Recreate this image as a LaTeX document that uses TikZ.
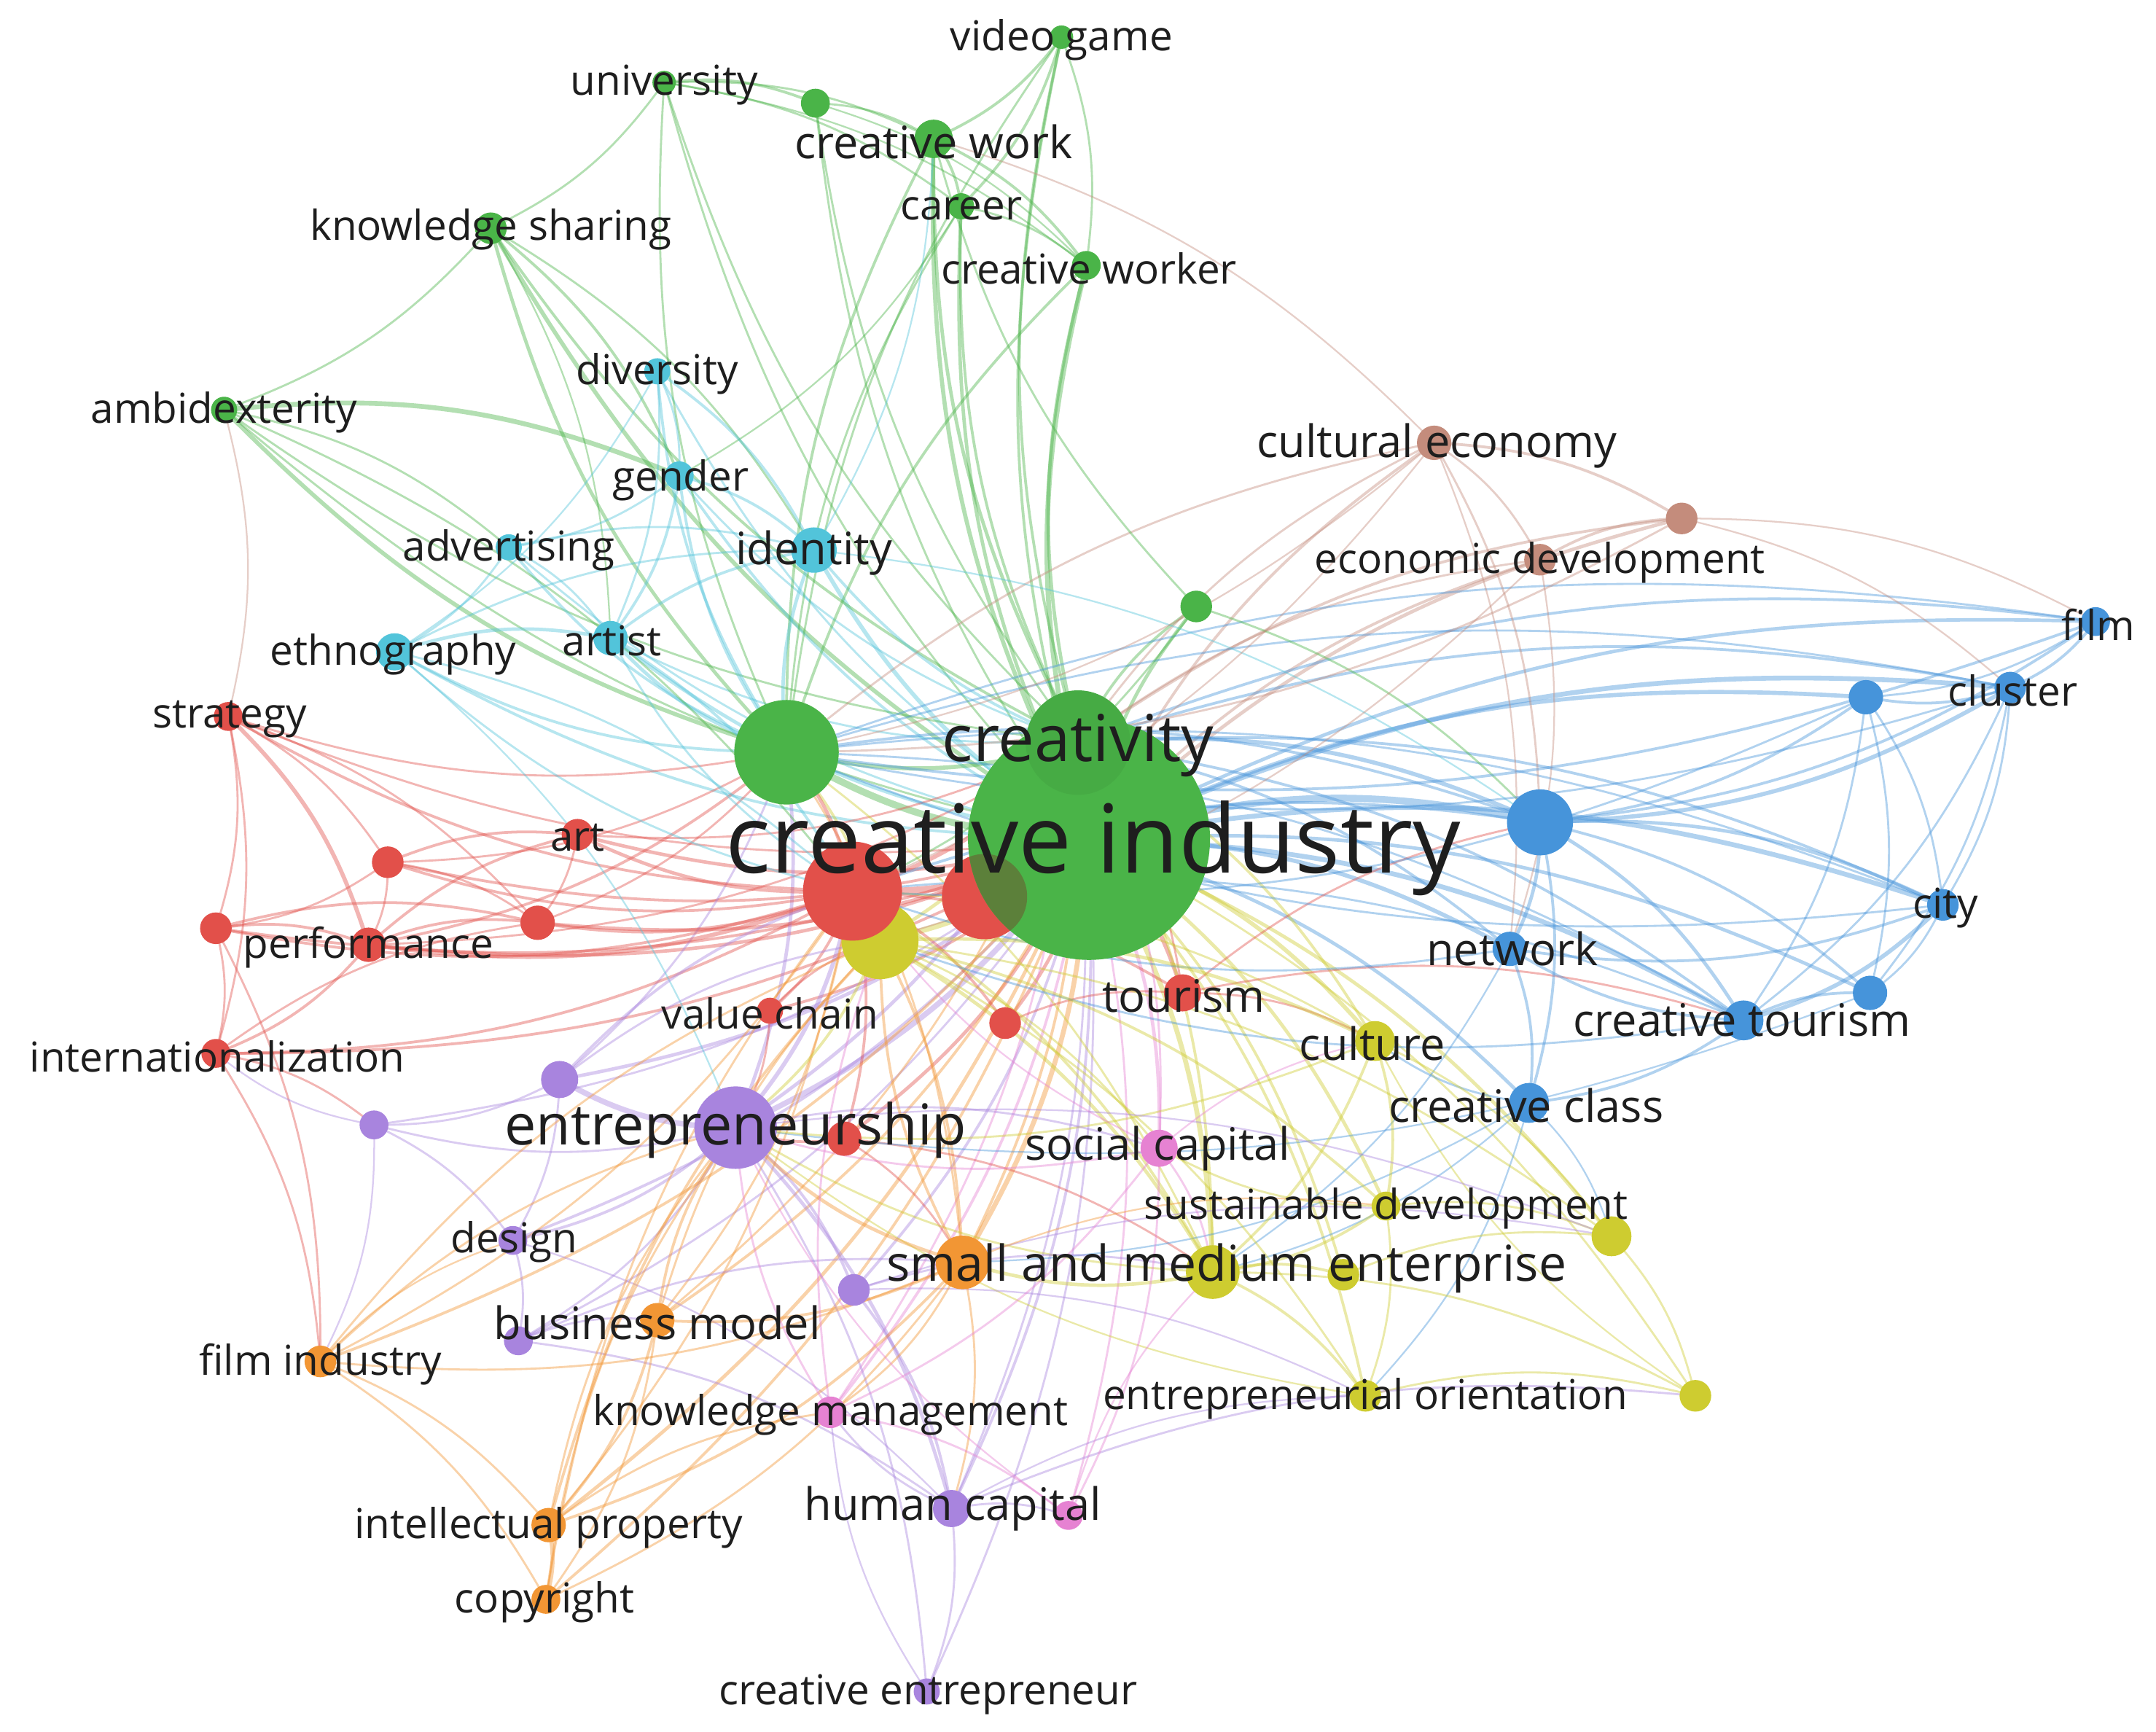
\documentclass[tikz,border=0pt]{standalone}
\usepackage{fontspec}
\setmainfont{Open Sans}
\usetikzlibrary{backgrounds}
\definecolor{cG}{RGB}{74,180,72}
\definecolor{cR}{RGB}{226,80,74}
\definecolor{cB}{RGB}{70,148,218}
\definecolor{cY}{RGB}{206,204,48}
\definecolor{cP}{RGB}{168,132,222}
\definecolor{cC}{RGB}{82,196,218}
\definecolor{cO}{RGB}{242,150,52}
\definecolor{cN}{RGB}{196,140,124}
\definecolor{cK}{RGB}{230,130,210}
\definecolor{cOv}{RGB}{92,128,58}
\definecolor{txt}{RGB}{30,30,30}
\tikzset{
  nd/.style={circle,inner sep=0pt,draw=none},
  lb/.style={inner sep=0pt,text=txt,yshift=-2pt,font=\fontsize{30}{30}\selectfont},
  lbm/.style={inner sep=0pt,text=txt,yshift=-2pt,font=\fontsize{32.5}{32.5}\selectfont},
  eG/.style={draw=cG,draw opacity=.42},
  eR/.style={draw=cR,draw opacity=.42},
  eB/.style={draw=cB,draw opacity=.42},
  eY/.style={draw=cY,draw opacity=.42},
  eP/.style={draw=cP,draw opacity=.42},
  eC/.style={draw=cC,draw opacity=.42},
  eO/.style={draw=cO,draw opacity=.42},
  eN/.style={draw=cN,draw opacity=.42},
  eK/.style={draw=cK,draw opacity=.42},
}
\begin{document}
\begin{tikzpicture}[x=1pt,y=-1pt]
\useasboundingbox (0,0) rectangle (1568,1259);
% ---- nodes (circles) ----
% green
\node[nd,fill=cG,minimum size=17] (vg) at (772,27) {};
\node[nd,fill=cG,minimum size=17] (univ) at (483,60) {};
\node[nd,fill=cG,minimum size=21] (g1) at (593,75) {};
\node[nd,fill=cG,minimum size=28] (cw) at (679,101) {};
\node[nd,fill=cG,minimum size=19] (car) at (699,150) {};
\node[nd,fill=cG,minimum size=21] (cwr) at (790,193) {};
\node[nd,fill=cG,minimum size=23] (ks) at (357,166) {};
\node[nd,fill=cG,minimum size=19] (amb) at (163,298) {};
\node[nd,fill=cG,minimum size=23] (g2) at (870,441) {};
% cyan
\node[nd,fill=cC,minimum size=19] (div) at (478,270) {};
\node[nd,fill=cC,minimum size=21] (gen) at (494,346) {};
\node[nd,fill=cC,minimum size=19] (adv) at (370,398) {};
\node[nd,fill=cC,minimum size=33] (idn) at (592,400) {};
\node[nd,fill=cC,minimum size=27] (eth) at (287,474) {};
\node[nd,fill=cC,minimum size=25] (art) at (444,464) {};
% brown
\node[nd,fill=cN,minimum size=25] (ce) at (1043,322) {};
\node[nd,fill=cN,minimum size=23] (b1) at (1223,377) {};
\node[nd,fill=cN,minimum size=23] (ed) at (1120,407) {};
% blue
\node[nd,fill=cB,minimum size=21] (film) at (1524,452) {};
\node[nd,fill=cB,minimum size=23] (clu) at (1462,500) {};
\node[nd,fill=cB,minimum size=25] (bl1) at (1357,507) {};
\node[nd,fill=cB,minimum size=48] (bl2) at (1120,598) {};
\node[nd,fill=cB,minimum size=23] (city) at (1413,658) {};
\node[nd,fill=cB,minimum size=25] (net) at (1098,690) {};
\node[nd,fill=cB,minimum size=25] (bl3) at (1360,722) {};
\node[nd,fill=cB,minimum size=29] (ct) at (1268,742) {};
\node[nd,fill=cB,minimum size=29] (cc) at (1112,802) {};
% red
\node[nd,fill=cR,minimum size=21] (str) at (166,521) {};
\node[nd,fill=cR,minimum size=23] (artr) at (420,607) {};
\node[nd,fill=cR,minimum size=23] (r1) at (282,627) {};
\node[nd,fill=cR,minimum size=23] (r2) at (157,675) {};
\node[nd,fill=cR,minimum size=25] (perf) at (268,687) {};
\node[nd,fill=cR,minimum size=25] (r3) at (391,671) {};
\node[nd,fill=cR,minimum size=19] (vc) at (560,735) {};
\node[nd,fill=cR,minimum size=23] (r6) at (731,744) {};
\node[nd,fill=cR,minimum size=27] (tour) at (860,722) {};
\node[nd,fill=cR,minimum size=21] (intl) at (157,766) {};
\node[nd,fill=cR,minimum size=25] (r7) at (614,828) {};
% yellow
\node[nd,fill=cY,minimum size=56] (y1) at (640,684) {};
\node[nd,fill=cY,minimum size=29] (cul) at (1000,757) {};
\node[nd,fill=cY,minimum size=21] (sd) at (1008,877) {};
\node[nd,fill=cY,minimum size=29] (y2) at (1172,899) {};
\node[nd,fill=cY,minimum size=39] (sme) at (882,925) {};
\node[nd,fill=cY,minimum size=23] (y3) at (977,927) {};
\node[nd,fill=cY,minimum size=23] (eo) at (993,1015) {};
\node[nd,fill=cY,minimum size=23] (y4) at (1233,1015) {};
% purple
\node[nd,fill=cP,minimum size=60] (ent) at (535,820) {};
\node[nd,fill=cP,minimum size=27] (p1) at (407,785) {};
\node[nd,fill=cP,minimum size=21] (p2) at (272,818) {};
\node[nd,fill=cP,minimum size=21] (des) at (373,902) {};
\node[nd,fill=cP,minimum size=21] (p3) at (377,975) {};
\node[nd,fill=cP,minimum size=23] (p4) at (621,938) {};
\node[nd,fill=cP,minimum size=27] (hc) at (692,1097) {};
\node[nd,fill=cP,minimum size=19] (cen) at (674,1230) {};
% orange
\node[nd,fill=cO,minimum size=39] (o1) at (700,918) {};
\node[nd,fill=cO,minimum size=25] (bm) at (478,960) {};
\node[nd,fill=cO,minimum size=23] (fi) at (233,990) {};
\node[nd,fill=cO,minimum size=25] (ip) at (399,1109) {};
\node[nd,fill=cO,minimum size=21] (cop) at (397,1163) {};
% pink
\node[nd,fill=cK,minimum size=27] (sc) at (843,835) {};
\node[nd,fill=cK,minimum size=23] (km) at (604,1027) {};
\node[nd,fill=cK,minimum size=21] (pk1) at (777,1102) {};
% big ones
\node[nd,fill=cG,minimum size=76] (g3) at (572,547) {};
\node[nd,fill=cR,minimum size=72] (r4) at (620,648) {};
\node[nd,fill=cR,minimum size=62] (r5) at (716,652) {};
\node[nd,fill=cG,minimum size=176] (ci) at (792,610) {};
\begin{scope}
\clip (792,610) circle (88);
\fill[cOv] (716,652) circle (31);
\end{scope}
\node[nd,fill=cG!95!black,minimum size=76] (cr) at (784,540) {};
% ---- edges ----
\begin{scope}[on background layer]
\fill[white] (0,0) rectangle (1568,1259);
\foreach \a/\b/\s/\w in {
ci/vg/eG/2, ci/univ/eG/1.5, ci/g1/eG/1.5, ci/cw/eG/3, ci/car/eG/2.5, ci/cwr/eG/3.5, ci/ks/eG/3, ci/amb/eG/1.5, ci/g2/eG/2.5, ci/g3/eG/5, ci/cr/eG/5,
ci/div/eC/1.5, ci/gen/eC/2, ci/adv/eC/1.5, ci/idn/eC/3, ci/eth/eC/2, ci/art/eC/2.5,
ci/ce/eN/2, ci/ed/eN/2, ci/b1/eN/2.5,
ci/film/eB/2.5, ci/clu/eB/3.5, ci/bl1/eB/3, ci/bl2/eB/5, ci/city/eB/3.5, ci/net/eB/3, ci/bl3/eB/2.5, ci/ct/eB/3.5, ci/cc/eB/2.5,
ci/str/eR/1.5, ci/artr/eR/2.5, ci/r1/eR/2, ci/r2/eR/2, ci/perf/eR/2.5, ci/r3/eR/2.5, ci/r4/eR/5, ci/vc/eR/2, ci/r6/eR/2.5, ci/tour/eR/3, ci/intl/eR/2, ci/r7/eR/2.5,
ci/y1/eY/4, ci/cul/eY/3, ci/sd/eY/2.5, ci/y2/eY/2.5, ci/sme/eY/3.5, ci/y3/eY/2, ci/eo/eY/2, ci/y4/eY/1.5,
ci/ent/eP/4, ci/p1/eP/2.5, ci/p2/eP/1.5, ci/des/eP/2, ci/p3/eP/1.5, ci/p4/eP/2, ci/hc/eP/2, ci/cen/eP/1.5,
ci/o1/eO/3.5, ci/bm/eO/2, ci/fi/eO/2, ci/ip/eO/2.5, ci/cop/eO/2,
ci/sc/eK/2.5, ci/km/eK/2, ci/pk1/eK/1.5,
cr/vg/eG/2, cr/univ/eG/1.5, cr/cw/eG/2.5, cr/car/eG/2, cr/cwr/eG/2.5, cr/ks/eG/2, cr/amb/eG/1.5, cr/g1/eG/1.5, cr/g2/eG/2, cr/g3/eG/3, cr/idn/eC/2, cr/gen/eC/1.5, cr/art/eC/1.5, cr/ce/eN/1.5, cr/ed/eN/1.5, cr/b1/eN/2, cr/clu/eB/2, cr/bl2/eB/3, cr/film/eB/2, cr/city/eB/2, cr/ct/eB/2, cr/net/eB/2, cr/r4/eR/3, cr/artr/eR/1.5, cr/perf/eR/1.5, cr/tour/eR/1.5, cr/y1/eY/2.5, cr/cul/eY/2, cr/sme/eY/2, cr/ent/eP/2.5, cr/o1/eO/2, cr/sc/eK/1.5, cr/km/eK/1.5, cr/bm/eO/1.5, cr/hc/eP/1.5,
g3/vg/eG/1.5, g3/univ/eG/1.5, g3/cw/eG/2, g3/cwr/eG/2, g3/car/eG/1.5, g3/ks/eG/2.5, g3/amb/eG/3, g3/div/eC/2, g3/gen/eC/2, g3/adv/eC/2, g3/idn/eC/2.5, g3/eth/eC/2, g3/art/eC/2.5, g3/str/eR/1.5, g3/r1/eR/1.5, g3/perf/eR/2, g3/r3/eR/1.5, g3/ent/eP/2.5, g3/bl2/eB/2, g3/clu/eB/1.5, g3/film/eB/1.5, g3/city/eB/1.5, g3/ct/eB/1.5, g3/ce/eN/1.5, g3/y1/eY/2, g3/sme/eY/1.5, g3/o1/eO/1.5, g3/p1/eP/1.5, g3/r4/eR/2.5,
r4/str/eR/2, r4/artr/eR/2.5, r4/r1/eR/2, r4/r2/eR/2, r4/perf/eR/3, r4/r3/eR/2.5, r4/vc/eR/2, r4/r6/eR/2, r4/tour/eR/2, r4/intl/eR/2, r4/r7/eR/2, r4/ent/eP/3, r4/y1/eY/3, r4/fi/eO/1.5, r4/bm/eO/1.5, r4/ip/eO/1.5, r4/sme/eY/2, r4/o1/eO/2, r4/bl2/eB/2, r4/ct/eB/1.5, r4/cul/eY/1.5, r4/eth/eC/1.5, r4/art/eC/1.5,
str/r1/eR/1.5, str/r2/eR/1.5, str/perf/eR/3, str/intl/eR/1.5, str/r3/eR/1.5, r1/r2/eR/1.5, r1/perf/eR/1.5, r1/artr/eR/2, r1/r3/eR/1.5, r2/perf/eR/2, r2/intl/eR/1.5, r2/r3/eR/2, perf/intl/eR/2, perf/r3/eR/2, perf/artr/eR/2, artr/r3/eR/1.5, intl/fi/eR/1.5, intl/p2/eR/1.5, intl/r3/eR/1.5, vc/ent/eR/1.5, vc/y1/eR/1.5, r6/tour/eR/1.5, tour/ct/eR/1.5, tour/cul/eR/1.5, r7/ent/eR/2, r7/sme/eR/1.5, r7/o1/eR/1.5, tour/bl2/eR/1.5, r2/fi/eR/1.5, amb/str/eN/1.2,
univ/g1/eG/2, univ/cw/eG/1.5, univ/ks/eG/1.5, univ/car/eG/1.5, univ/cwr/eG/1.2, ks/amb/eG/1.5, ks/gen/eG/2, ks/idn/eG/1.5, ks/art/eG/1.2, amb/gen/eG/3.5, amb/adv/eG/1.5, amb/r4/eG/1.5, vg/cw/eG/2, vg/car/eG/2, vg/cwr/eG/1.5, cw/car/eG/2, cw/cwr/eG/2, car/cwr/eG/1.5, cw/ce/eN/1.2, g1/cw/eG/1.5, g1/cwr/eG/1.2, g2/bl2/eG/1.5, g2/cw/eG/1.5, g2/r4/eG/1.5, cw/idn/eC/1.2, car/gen/eG/1.2,
div/gen/eC/1.5, div/idn/eC/2, div/eth/eC/1.2, div/art/eC/1.5, gen/idn/eC/2, gen/adv/eC/1.5, gen/art/eC/2, adv/eth/eC/1.5, adv/art/eC/1.5, adv/idn/eC/1.5, eth/art/eC/2.5, eth/idn/eC/1.5, art/idn/eC/2, eth/r4/eC/1.5, idn/bl2/eC/1.2, art/r4/eC/2, eth/ent/eC/1.2,
ce/ed/eN/1.5, ce/b1/eN/2, ed/b1/eN/2, ce/bl2/eN/1.5, ce/g3/eN/1.2, ed/net/eN/1.2, ce/net/eN/1.2, b1/film/eN/1.2, b1/clu/eN/1.2, ed/y1/eN/1.2, ce/r4/eN/1.2, b1/g3/eN/1.5,
film/clu/eB/2, film/bl1/eB/1.5, film/bl2/eB/2, clu/bl1/eB/2, clu/bl2/eB/3, clu/city/eB/1.5, clu/ct/eB/1.5, clu/bl3/eB/1.5, bl1/bl2/eB/2, bl1/city/eB/1.5, bl1/bl3/eB/1.5, bl1/ct/eB/1.5, bl2/city/eB/2.5, bl2/ct/eB/2.5, bl2/net/eB/2.5, bl2/bl3/eB/2, bl2/cc/eB/2, city/ct/eB/3, city/bl3/eB/1.5, city/net/eB/2, ct/bl3/eB/2, ct/net/eB/2, ct/cc/eB/2, net/cc/eB/2, cc/cul/eB/1.5, cc/y2/eB/1.2, cc/eo/eB/1.2, film/g3/eB/2, clu/g3/eB/1.5, bl1/r4/eB/1.5, net/r4/eB/1.5, ct/y1/eB/1.5, city/g3/eB/1.5, bl3/ent/eB/1.2, cc/sme/eB/1.2, net/sme/eB/1.2, cc/o1/eB/1.2,
y1/cul/eY/2.5, y1/sme/eY/2.5, y1/sd/eY/2, y1/eo/eY/1.5, cul/sd/eY/2, cul/sme/eY/2, cul/y2/eY/1.5, sd/sme/eY/2, sd/y2/eY/1.5, sme/y3/eY/2, sme/eo/eY/2, sme/y4/eY/1.5, y2/y4/eY/1.5, eo/y4/eY/1.5, y3/y2/eY/1.5, sd/eo/eY/1.5, sme/ent/eY/1.5, y4/cul/eY/1.2, y1/ent/eY/2, y1/sc/eY/1.5, sd/sc/eY/1.5, cul/ent/eY/1.5, y1/y2/eY/1.5, eo/ent/eY/1.2, sme/o1/eY/2.5,
ent/p1/eP/4, ent/p2/eP/1.5, ent/des/eP/2, ent/p3/eP/1.5, ent/p4/eP/2, ent/hc/eP/2.5, ent/cen/eP/1.5, p1/p2/eP/1.5, p1/des/eP/1.5, p2/des/eP/1.5, des/p3/eP/1.5, p3/bm/eP/1.5, p4/hc/eP/2, hc/cen/eP/1.5, hc/km/eP/1.5, hc/pk1/eP/1.5, p4/sme/eP/1.5, p2/intl/eP/1.2, hc/y4/eP/1.5, p3/hc/eP/1.5, cen/km/eP/1.2, des/hc/eP/1.2, p2/fi/eP/1.2, p1/r4/eP/2, p3/o1/eP/1.5, p4/y2/eP/1.2, p1/y1/eP/1.5, ent/sc/eP/1.5, ent/y2/eP/1.2, hc/eo/eP/1.2, p4/eo/eP/1.2,
o1/bm/eO/2, o1/fi/eO/1.5, o1/ip/eO/2, o1/cop/eO/1.5, bm/ip/eO/2, bm/cop/eO/1.5, fi/ip/eO/1.5, fi/cop/eO/1.5, ip/cop/eO/3, fi/ent/eO/1.5, bm/ent/eO/2, ip/ent/eO/1.5, cop/r4/eO/1.5, o1/ent/eO/2.5, o1/km/eO/1.5, o1/hc/eO/1.5, ip/km/eO/1.5, fi/y1/eO/1.5, bm/y1/eO/1.5, ip/y1/eO/2, cop/ent/eO/1.5, o1/y1/eO/2, fi/des/eO/1.2, o1/sd/eO/1.2,
sc/km/eK/1.5, sc/pk1/eK/1.5, sc/ent/eK/1.5, km/pk1/eK/1.5, km/ent/eK/1.5, pk1/sme/eK/1.2, sc/sme/eK/1.5, sc/cul/eK/1.2, km/y1/eK/1.5, pk1/ent/eK/1.2, sc/r4/eK/1.2}
{\draw[\s,line width=\w pt] (\a.center) to[bend left=14] (\b.center);}
\end{scope}
% ---- labels ----
\node[lb] (l-vg) at (772,27) {video game};
\node[lb] (l-univ) at (483,60) {university};
\node[lbm] (l-cw) at (679,101) {creative work};
\node[lb] (l-car) at (699,150) {career};
\node[lb] (l-cwr) at (792,193) {creative worker};
\node[lb] (l-ks) at (357,165) {knowledge sharing};
\node[lb] (l-amb) at (163,298) {ambidexterity};
\node[lb] (l-div) at (478,270) {diversity};
\node[lb] (l-gen) at (495,347) {gender};
\node[lb] (l-adv) at (370,398) {advertising};
\node[lbm] (l-idn) at (592,400) {identity};
\node[lb] (l-eth) at (286,474) {ethnography};
\node[lb] (l-art) at (445,464) {artist};
\node[lbm] (l-ce) at (1045,322) {cultural economy};
\node[lb] (l-ed) at (1120,407) {economic development};
\node[lb] (l-film) at (1526,452) {film};
\node[lb] (l-clu) at (1464,500) {cluster};
\node[lb] (l-city) at (1415,658) {city};
\node[lbm] (l-net) at (1100,688) {network};
\node[lbm] (l-ct) at (1267,740) {creative tourism};
\node[lbm] (l-cc) at (1110,802) {creative class};
\node[lb] (l-str) at (167,521) {strategy};
\node[lb] (l-artr) at (420,607) {art};
\node[lb] (l-perf) at (268,687) {performance};
\node[lb] (l-vc) at (560,735) {value chain};
\node[lbm] (l-tour) at (861,722) {tourism};
\node[lb] (l-intl) at (158,766) {internationalization};
\node[lbm] (l-cul) at (998,757) {culture};
\node[lb] (l-sd) at (1008,877) {sustainable development};
\node[inner sep=0pt,text=txt,yshift=-2pt,font=\fontsize{36}{36}\selectfont] (l-sme) at (892,920) {small and medium enterprise};
\node[lb] (l-eo) at (993,1015) {entrepreneurial orientation};
\node[inner sep=0pt,text=txt,yshift=-2pt,font=\fontsize{41}{41}\selectfont] (l-ent) at (535,820) {entrepreneurship};
\node[lb] (l-des) at (374,901) {design};
\node[lbm] (l-hc) at (693,1095) {human capital};
\node[lb] (l-cen) at (675,1230) {creative entrepreneur};
\node[lbm] (l-bm) at (478,960) {business model};
\node[lb] (l-fi) at (233,990) {film industry};
\node[lb] (l-ip) at (399,1109) {intellectual property};
\node[lb] (l-cop) at (396,1163) {copyright};
\node[lbm] (l-sc) at (842,833) {social capital};
\node[lb] (l-km) at (604,1027) {knowledge management};
\node[inner sep=0pt,text=txt,yshift=-2pt,font=\fontsize{47}{47}\selectfont] (l-cr) at (784,540) {creativity};
\node[inner sep=0pt,text=txt,yshift=-3pt,font=\fontsize{69}{69}\selectfont] (l-ci) at (795,614) {creative industry};
\end{tikzpicture}
\end{document}
